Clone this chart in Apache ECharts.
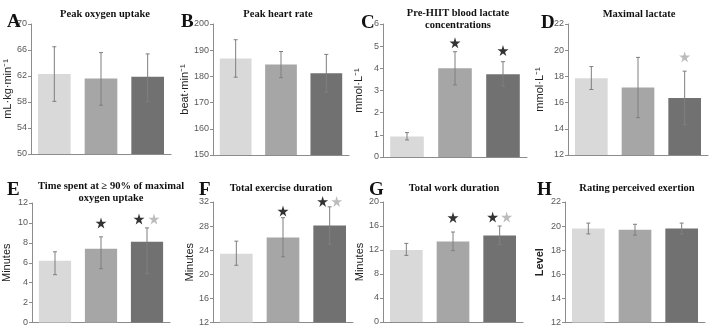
<!DOCTYPE html>
<html>
<head>
<meta charset="utf-8">
<script src="https://cdn.jsdelivr.net/npm/echarts@6/dist/echarts.min.js"></script>
<style>html,body{margin:0;padding:0;background:#fff}#chart{width:709px;height:327px}</style>
</head>
<body>
<div id="chart"></div>
<script>
'use strict'

var groups = ['Condition 1', 'Condition 2', 'Condition 3'];
var letters = ['A', 'B', 'C', 'D', 'E', 'F', 'G', 'H'];
var titles = [
    'Peak oxygen uptake',
    'Peak heart rate',
    'Pre-HIIT blood lactate\nconcentrations',
    'Maximal lactate',
    'Time spent at \u2265 90% of maximal\noxygen uptake',
    'Total exercise duration',
    'Total work duration',
    'Rating perceived exertion'
];
var axisNames = ['mL\u00b7kg\u00b7min\u207b\u00b9', 'beat\u00b7min\u207b\u00b9', 'mmol\u00b7L\u207b\u00b9', 'mmol\u00b7L\u207b\u00b9',
    'Minutes', 'Minutes', 'Minutes', 'Level'];
var yMin = [50, 150, 0, 12, 0, 12, 0, 12];
var yMax = [70, 200, 6, 22, 12, 32, 20, 22];
var yStep = [4, 10, 1, 2, 2, 4, 4, 2];

var means = [
    [62.3, 61.6, 61.9],
    [186.8, 184.5, 181.2],
    [0.93, 4.0, 3.73],
    [17.85, 17.15, 16.35],
    [6.2, 7.4, 8.1],
    [23.4, 26.1, 28.1],
    [12.0, 13.4, 14.4],
    [19.8, 19.7, 19.8]
];
var errLow = [
    [58.1, 57.5, 58.1],
    [179.7, 179.5, 174.0],
    [0.77, 3.25, 3.2],
    [17.0, 14.85, 14.3],
    [4.8, 5.4, 4.9],
    [21.5, 22.9, 25.0],
    [11.1, 11.9, 12.9],
    [19.35, 19.25, 19.35]
];
var errHigh = [
    [66.5, 65.6, 65.4],
    [194.0, 189.5, 188.4],
    [1.1, 4.75, 4.3],
    [18.75, 19.45, 18.4],
    [7.1, 8.6, 9.5],
    [25.5, 29.4, 31.2],
    [13.1, 15.0, 16.0],
    [20.25, 20.15, 20.25]
];
// [panel, bar, height, x shift]
var blackStars = [[2, 1, 5.15, 0], [2, 2, 4.8, 0], [4, 1, 10, 0], [4, 2, 10.4, -8],
    [5, 1, 30.5, 0], [5, 2, 32.1, -7], [6, 1, 17.4, 0], [6, 2, 17.5, -7]];
var grayStars = [[3, 2, 19.5, 0], [4, 2, 10.4, 7], [5, 2, 32.1, 7], [6, 2, 17.5, 7]];

var barColors = ['#d9d9d9', '#a6a6a6', '#717171'];
var starPath = 'path://M50,0 L61,35 L98,35 L68,57 L79,91 L50,70 L21,91 L32,57 L2,35 L39,35 Z';

var boxes = [
    {left: 31, top: 24, width: 140, height: 130},
    {left: 213, top: 24, width: 136, height: 131},
    {left: 383, top: 24, width: 144, height: 133},
    {left: 568, top: 24, width: 140, height: 131},
    {left: 31, top: 203, width: 139, height: 120},
    {left: 213, top: 202, width: 140, height: 121},
    {left: 383, top: 202, width: 140, height: 120},
    {left: 565, top: 202, width: 140, height: 121}
];
var titlePos = [[100, 3], [273, 3], [453, 2], [634, 3], [106, 175], [276, 177], [449, 177], [632, 177]];
var letterPos = [[2, 8], [176, 8], [356, 9], [536, 9], [2, 176], [194, 176], [364, 176], [532, 176]];
var nameGaps = [17, 23, 19, 23, 20, 17, 15, 20];

var option = {
    animation: false,
    backgroundColor: '#fff',
    title: [],
    grid: [],
    xAxis: [],
    yAxis: [],
    series: []
};

function errorBar(params, api) {
    var lo = api.coord([api.value(0), api.value(1)]);
    var hi = api.coord([api.value(0), api.value(2)]);
    var st = {stroke: '#7f7f7f', lineWidth: 1};
    return {
        type: 'group',
        children: [
            {type: 'line', shape: {x1: lo[0], y1: lo[1], x2: hi[0], y2: hi[1]}, style: st},
            {type: 'line', shape: {x1: lo[0] - 2, y1: lo[1], x2: lo[0] + 2, y2: lo[1]}, style: st},
            {type: 'line', shape: {x1: hi[0] - 2, y1: hi[1], x2: hi[0] + 2, y2: hi[1]}, style: st}
        ]
    };
}

function starData(list, p) {
    return list.filter(function (s) { return s[0] === p; }).map(function (s) {
        return {value: [groups[s[1]], s[2]], symbolOffset: [s[3], 0]};
    });
}

for (var i = 0; i < 8; i++) {
    option.title.push({
        text: titles[i], left: titlePos[i][0], top: titlePos[i][1], textAlign: 'center',
        textStyle: {fontFamily: 'Liberation Serif', fontWeight: 'bold', fontSize: 10.5, lineHeight: 12, color: '#111'}
    });
    option.title.push({
        text: letters[i], left: letterPos[i][0], top: letterPos[i][1],
        textStyle: {fontFamily: 'Liberation Serif', fontWeight: 'bold', fontSize: 19, color: '#111'}
    });
    option.grid.push(boxes[i]);
    option.xAxis.push({
        type: 'category', gridIndex: i, data: groups,
        axisLine: {lineStyle: {color: '#8c8c8c', width: 1}},
        axisTick: {show: false}, axisLabel: {show: false}
    });
    option.yAxis.push({
        type: 'value', gridIndex: i, min: yMin[i], max: yMax[i], interval: yStep[i],
        name: axisNames[i], nameLocation: 'middle', nameGap: nameGaps[i],
        nameTextStyle: {fontFamily: 'Liberation Sans', fontSize: 11, color: '#222', fontWeight: i === 7 ? 'bold' : 'normal'},
        axisLine: {show: true, lineStyle: {color: '#8c8c8c', width: 1}},
        axisTick: {show: true, length: 3, lineStyle: {color: '#8c8c8c'}},
        axisLabel: {fontFamily: 'Liberation Sans', fontSize: 9, color: '#595959', margin: 4},
        splitLine: {show: false}
    });
    option.series.push({
        type: 'bar', xAxisIndex: i, yAxisIndex: i, barWidth: '70%',
        data: means[i].map(function (v, j) { return {value: v, itemStyle: {color: barColors[j]}}; })
    });
    option.series.push({
        type: 'custom', xAxisIndex: i, yAxisIndex: i, renderItem: errorBar, z: 5, clip: false,
        encode: {x: 0, y: [1, 2]},
        data: groups.map(function (g, j) { return [j, errLow[i][j], errHigh[i][j]]; })
    });
    option.series.push({
        type: 'scatter', xAxisIndex: i, yAxisIndex: i, symbol: starPath, symbolSize: 11, z: 6, clip: false,
        itemStyle: {color: '#000'}, data: starData(blackStars, i)
    });
    option.series.push({
        type: 'scatter', xAxisIndex: i, yAxisIndex: i, symbol: starPath, symbolSize: 11, z: 6, clip: false,
        itemStyle: {color: '#ababab'}, data: starData(grayStars, i)
    });
}

var myChart = echarts.init(document.getElementById('chart'));
myChart.setOption(option);
</script>
</body>
</html>
